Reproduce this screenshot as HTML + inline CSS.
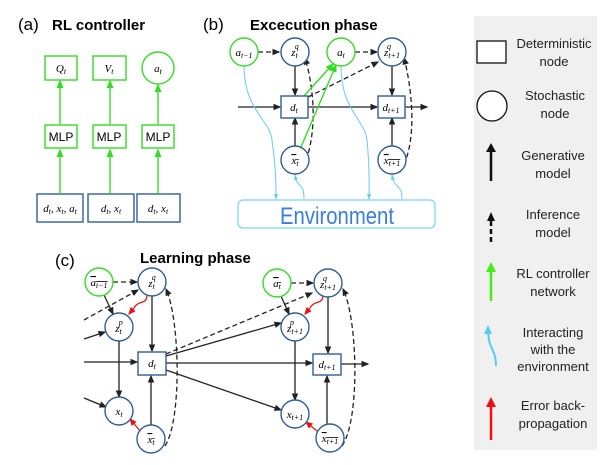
<!DOCTYPE html>
<html><head><meta charset="utf-8"><style>
body{margin:0;background:#fff}
svg{display:block}
text{font-family:"Liberation Sans",sans-serif}
.m{font-family:"Liberation Serif",serif;font-style:italic;font-size:11px}
.b{fill:#fff;stroke:#2e5e9a;stroke-width:1.4}
.g{fill:#fff;stroke:#33dd22;stroke-width:1.4}
.k{stroke:#222;stroke-width:1.3;fill:none}
.d{stroke:#222;stroke-width:1.3;fill:none;stroke-dasharray:5,3}
.gl{stroke:#33dd22;stroke-width:1.4;fill:none}
.c{stroke:#66ccf0;stroke-width:1;fill:none}
.r{stroke:#ee1111;stroke-width:1.3;fill:none}
.L{font-size:13px;fill:#222;text-anchor:middle}
</style></head><body>
<svg width="609" height="465" viewBox="0 0 609 465" xmlns="http://www.w3.org/2000/svg">
<defs>
<marker id="ak" markerWidth="6" markerHeight="6" refX="5" refY="3" orient="auto"><path d="M0,0.5L6,3L0,5.5z" fill="#222"/></marker>
<marker id="ag" markerWidth="6" markerHeight="6" refX="5" refY="3" orient="auto"><path d="M0,0.5L6,3L0,5.5z" fill="#33dd22"/></marker>
<marker id="ar" markerWidth="6" markerHeight="6" refX="5" refY="3" orient="auto"><path d="M0,0.5L6,3L0,5.5z" fill="#ee1111"/></marker>
<marker id="ac" markerWidth="6" markerHeight="6" refX="5" refY="3" orient="auto"><path d="M0,1L6,3L0,5z" fill="#66ccf0"/></marker>
</defs>

<!-- (a) -->
<text x="18" y="30" font-size="17">(a)</text>
<text x="52" y="30" font-size="15" font-weight="bold">RL controller</text>
<rect x="45" y="56" width="32" height="24" class="g"/>
<rect x="93" y="56" width="33" height="24" class="g"/>
<circle cx="158" cy="68" r="16" class="g"/>
<text x="61" y="72" class="m" text-anchor="middle">Q<tspan font-size="8" dy="2">t</tspan></text>
<text x="109" y="72" class="m" text-anchor="middle">V<tspan font-size="8" dy="2">t</tspan></text>
<text x="158" y="72" class="m" text-anchor="middle">a<tspan font-size="8" dy="2">t</tspan></text>
<rect x="45" y="125" width="32" height="23" class="g"/>
<rect x="93" y="125" width="33" height="23" class="g"/>
<rect x="142" y="125" width="32" height="23" class="g"/>
<text x="61" y="141" font-family="Liberation Serif" font-size="12" text-anchor="middle">MLP</text>
<text x="109" y="141" font-family="Liberation Serif" font-size="12" text-anchor="middle">MLP</text>
<text x="158" y="141" font-family="Liberation Serif" font-size="12" text-anchor="middle">MLP</text>
<rect x="37" y="194" width="46" height="28" class="b"/>
<rect x="88" y="194" width="46" height="28" class="b"/>
<rect x="137" y="194" width="43" height="28" class="b"/>
<text x="60" y="212" class="m" text-anchor="middle">d<tspan font-size="8" dy="2">t</tspan><tspan dy="-2">, x</tspan><tspan font-size="8" dy="2">t</tspan><tspan dy="-2">, a</tspan><tspan font-size="8" dy="2">t</tspan></text>
<text x="111" y="212" class="m" text-anchor="middle">d<tspan font-size="8" dy="2">t</tspan><tspan dy="-2">, x</tspan><tspan font-size="8" dy="2">t</tspan></text>
<text x="158" y="212" class="m" text-anchor="middle">d<tspan font-size="8" dy="2">t</tspan><tspan dy="-2">, x</tspan><tspan font-size="8" dy="2">t</tspan></text>
<g class="gl"><path d="M60,194V150" marker-end="url(#ag)"/><path d="M60,124V81" marker-end="url(#ag)"/><path d="M110,194V150" marker-end="url(#ag)"/><path d="M110,124V81" marker-end="url(#ag)"/><path d="M158,194V150" marker-end="url(#ag)"/><path d="M158,124V85" marker-end="url(#ag)"/></g>

<!-- (b) -->
<text x="203" y="30" font-size="17">(b)</text>
<text x="250" y="30" font-size="15" font-weight="bold">Excecution phase</text>
<path d="M238,107H280" class="k" marker-end="url(#ak)"/>
<path d="M308,107H377" class="k" marker-end="url(#ak)"/>
<path d="M405,107H427" class="k" marker-end="url(#ak)"/>
<path d="M258,52H279" class="d" marker-end="url(#ak)"/>
<path d="M355,52H377" class="d" marker-end="url(#ak)"/>
<path d="M295,66V95" class="k" marker-end="url(#ak)"/>
<path d="M392,66V95" class="k" marker-end="url(#ak)"/>
<path d="M295,146V118" class="k" marker-end="url(#ak)"/>
<path d="M392,146V118" class="k" marker-end="url(#ak)"/>
<path d="M308,97L378,62" class="d" marker-end="url(#ak)"/>
<path d="M303,168C320,130 312,80 305,58" class="d" marker-end="url(#ak)"/>
<path d="M400,172C420,140 410,80 404,58" class="d" marker-end="url(#ak)"/>
<path d="M303,97L333,64" class="gl" marker-end="url(#ag)"/>
<path d="M301,147L336,65" class="gl" marker-end="url(#ag)"/>
<path d="M244,66C244,110 270,120 272,140C276,170 276,185 276,199" class="c" marker-end="url(#ac)"/>
<path d="M304,199C304,185 300,188 296,180L295,175" class="c" marker-end="url(#ac)"/>
<path d="M341,66C341,110 365,120 367,140C370,170 369,185 369,199" class="c" marker-end="url(#ac)"/>
<path d="M402,199C402,185 396,188 393,180L392,175" class="c" marker-end="url(#ac)"/>
<circle cx="244" cy="52" r="14" class="g"/>
<circle cx="295" cy="52" r="14" class="b"/>
<circle cx="341" cy="52" r="14" class="g"/>
<circle cx="392" cy="52" r="14" class="b"/>
<rect x="281" y="96" width="27" height="22" class="b"/>
<rect x="378" y="96" width="27" height="22" class="b"/>
<circle cx="295" cy="160" r="14" class="b"/>
<circle cx="392" cy="160" r="14" class="b"/>
<text x="244" y="56" class="m" text-anchor="middle">a<tspan font-size="8" dy="2">t−1</tspan></text>
<text x="295" y="56" class="m" text-anchor="middle">z<tspan font-size="8" dy="2">t</tspan><tspan font-size="8" dx="-3" dy="-9">q</tspan></text>
<text x="341" y="56" class="m" text-anchor="middle">a<tspan font-size="8" dy="2">t</tspan></text>
<text x="392" y="56" class="m" text-anchor="middle">z<tspan font-size="8" dy="2">t+1</tspan><tspan font-size="8" dx="-13" dy="-9">q</tspan></text>
<text x="294" y="111" class="m" text-anchor="middle">d<tspan font-size="8" dy="2">t</tspan></text>
<text x="391" y="111" class="m" text-anchor="middle">d<tspan font-size="8" dy="2">t+1</tspan></text>
<text x="295" y="164" class="m" text-anchor="middle" text-decoration="overline">x<tspan font-size="8" dy="2">t</tspan></text>
<text x="392" y="164" class="m" text-anchor="middle" text-decoration="overline">x<tspan font-size="8" dy="2">t+1</tspan></text>
<rect x="238" y="200" width="197" height="28" rx="5" fill="#fff" stroke="#77d6f5" stroke-width="1.2"/>
<text x="337" y="224" font-family="'Liberation Sans Narrow','Liberation Sans',sans-serif" font-size="24" fill="#3a7ee0" text-anchor="middle" textLength="114" lengthAdjust="spacingAndGlyphs">Environment</text>

<!-- (c) -->
<text x="55" y="266" font-size="17">(c)</text>
<text x="140" y="263" font-size="15" font-weight="bold">Learning phase</text>
<path d="M84,362H137" class="k" marker-end="url(#ak)"/>
<path d="M166,363H312" class="k" marker-end="url(#ak)"/>
<path d="M341,364H368" class="k" marker-end="url(#ak)"/>
<path d="M113,282H137" class="d" marker-end="url(#ak)"/>
<path d="M291,283H313" class="d" marker-end="url(#ak)"/>
<path d="M84,320L138,290" class="d" marker-end="url(#ak)"/>
<path d="M84,339L105,332" class="k" marker-end="url(#ak)"/>
<path d="M84,398L106,407" class="k" marker-end="url(#ak)"/>
<path d="M104,295L113,314" class="k" marker-end="url(#ak)"/>
<path d="M281,296L289,314" class="k" marker-end="url(#ak)"/>
<path d="M152,296V351" class="k" marker-end="url(#ak)"/>
<path d="M328,297V353" class="k" marker-end="url(#ak)"/>
<path d="M119,341V397" class="k" marker-end="url(#ak)"/>
<path d="M295,341V400" class="k" marker-end="url(#ak)"/>
<path d="M151,425V376" class="k" marker-end="url(#ak)"/>
<path d="M327,424V376" class="k" marker-end="url(#ak)"/>
<path d="M166,354L312,293" class="d" marker-end="url(#ak)"/>
<path d="M166,356L281,323" class="k" marker-end="url(#ak)"/>
<path d="M166,370L281,410" class="k" marker-end="url(#ak)"/>
<path d="M165,446C182,420 180,320 166,289" class="d" marker-end="url(#ak)"/>
<path d="M342,446C360,420 358,320 343,289" class="d" marker-end="url(#ak)"/>
<path d="M141,432L130,419" class="r" marker-end="url(#ar)"/>
<path d="M317,431L306,422" class="r" marker-end="url(#ar)"/>
<path d="M147,296C146,305 138,300 134,308L129,314" class="r" marker-end="url(#ar)" marker-start="url(#ar)"/>
<path d="M323,296C322,305 314,300 310,308L305,314" class="r" marker-end="url(#ar)"/>
<circle cx="99" cy="282" r="14" class="g"/>
<circle cx="152" cy="282" r="14" class="b"/>
<circle cx="119" cy="327" r="14" class="b"/>
<rect x="138" y="352" width="28" height="23" class="b"/>
<circle cx="119" cy="411" r="14" class="b"/>
<circle cx="151" cy="439" r="14" class="b"/>
<circle cx="277" cy="283" r="14" class="g"/>
<circle cx="328" cy="283" r="14" class="b"/>
<circle cx="295" cy="327" r="14" class="b"/>
<rect x="313" y="354" width="28" height="21" class="b"/>
<circle cx="295" cy="414" r="14" class="b"/>
<circle cx="330" cy="438" r="14" class="b"/>
<text x="99" y="286" class="m" text-anchor="middle" text-decoration="overline">a<tspan font-size="8" dy="2">t−1</tspan></text>
<text x="152" y="287" class="m" text-anchor="middle">z<tspan font-size="8" dy="2">t</tspan><tspan font-size="8" dx="-3" dy="-9">q</tspan></text>
<text x="119" y="332" class="m" text-anchor="middle">z<tspan font-size="8" dy="2">t</tspan><tspan font-size="8" dx="-3" dy="-9">p</tspan></text>
<text x="152" y="367" class="m" text-anchor="middle">d<tspan font-size="8" dy="2">t</tspan></text>
<text x="119" y="415" class="m" text-anchor="middle">x<tspan font-size="8" dy="2">t</tspan></text>
<text x="151" y="443" class="m" text-anchor="middle" text-decoration="overline">x<tspan font-size="8" dy="2">t</tspan></text>
<text x="277" y="287" class="m" text-anchor="middle" text-decoration="overline">a<tspan font-size="8" dy="2">t</tspan></text>
<text x="328" y="288" class="m" text-anchor="middle">z<tspan font-size="8" dy="2">t+1</tspan><tspan font-size="8" dx="-13" dy="-9">q</tspan></text>
<text x="295" y="332" class="m" text-anchor="middle">z<tspan font-size="8" dy="2">t+1</tspan><tspan font-size="8" dx="-13" dy="-9">p</tspan></text>
<text x="327" y="368" class="m" text-anchor="middle">d<tspan font-size="8" dy="2">t+1</tspan></text>
<text x="295" y="418" class="m" text-anchor="middle">x<tspan font-size="8" dy="2">t+1</tspan></text>
<text x="330" y="442" class="m" text-anchor="middle" text-decoration="overline">x<tspan font-size="8" dy="2">t+1</tspan></text>

<!-- legend -->
<rect x="474" y="16" width="123" height="434" fill="#f0f0f0"/>
<rect x="477" y="41" width="29" height="22" fill="#fff" stroke="#111" stroke-width="1.3"/>
<text x="554" y="48" class="L">Deterministic</text>
<text x="554" y="66" class="L">node</text>
<circle cx="492" cy="106" r="15" fill="#fff" stroke="#111" stroke-width="1.3"/>
<text x="555" y="100" class="L">Stochastic</text>
<text x="555" y="118" class="L">node</text>
<path d="M491,181V150" stroke="#111" stroke-width="2.5"/><path d="M486,152L491,143L496,152z" fill="#111"/>
<text x="553" y="160" class="L">Generative</text>
<text x="553" y="178" class="L">model</text>
<path d="M491,242V220" stroke="#111" stroke-width="2.5" stroke-dasharray="5,3"/><path d="M487,221L491,212L495,221z" fill="#111"/>
<text x="553" y="219" class="L">Inference</text>
<text x="553" y="237" class="L">model</text>
<path d="M491,301V270" stroke="#44ee11" stroke-width="2.5"/><path d="M486,272L491,262L496,272z" fill="#44ee11"/>
<text x="553" y="278" class="L">RL controller</text>
<text x="553" y="296" class="L">network</text>
<path d="M496,366C496,352 491,350 489,340L488,332" stroke="#55ccf5" stroke-width="2" fill="none"/><path d="M484,334L488,325L492,334z" fill="#55ccf5"/>
<text x="553" y="337" class="L">Interacting</text>
<text x="553" y="354" class="L">with the</text>
<text x="553" y="371" class="L">environment</text>
<path d="M491,440V405" stroke="#ee1111" stroke-width="2.5"/><path d="M486,407L491,397L496,407z" fill="#ee1111"/>
<text x="553" y="410" class="L">Error back-</text>
<text x="553" y="428" class="L">propagation</text>
</svg>
</body></html>
